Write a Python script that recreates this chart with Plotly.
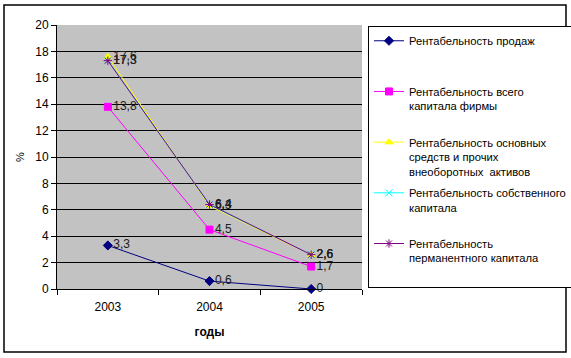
import plotly.graph_objects as go

years = ["2003", "2004", "2005"]
sales = [3.3, 0.6, 0]
total_capital = [13.8, 4.5, 1.7]
fixed_assets = [17.6, 6.3, 2.6]
own_capital = [17.3, 6.4, 2.6]
permanent_capital = [17.3, 6.4, 2.6]

names = [
    "Рентабельность продаж",
    "Рентабельность всего<br>капитала фирмы",
    "Рентабельность основных<br>средств и прочих<br>внеоборотных  активов",
    "Рентабельность собственного<br>капитала",
    "Рентабельность<br>перманентного капитала",
]
series = [sales, total_capital, fixed_assets, own_capital, permanent_capital]
colors = ["#000080", "#FF00FF", "#FFFF00", "#00FFFF", "#800080"]
symbols = ["diamond", "square", "triangle-up", "x-thin-open", "asterisk-open"]
sizes = [7, 7, 7, 7, 7]

def fmt(v):
    s = ("%g" % v)
    return s.replace(".", ",")

def pad(name):
    n = name.count("<br>") + 1
    return name + "<br>\u00a0" * (3 - n)

FONT = "Arial, Liberation Sans, sans-serif"

fig = go.Figure()
for i, (vals, nm, c, sym, sz) in enumerate(zip(series, names, colors, symbols, sizes)):
    fig.add_trace(go.Scatter(
        x=years, y=vals, name=pad(nm), mode="lines+markers+text",
        line=dict(color=c, width=1),
        marker=dict(color=c, symbol=sym, size=sz, line=dict(color=c, width=1)),
        text=[fmt(v) for v in vals], textposition="middle right",
        textfont=dict(family=FONT, size=12, color="#202020"),
        legendgroup=str(i), cliponaxis=False,
    ))

FW, FH = 571, 358
L, R, T, B = 57, 5, 5, 69
PW, PH = FW - L - R, FH - T - B
plot_w, plot_top = 305, 25

def px(x):
    return (x - L) / PW

def py(y):
    return (FH - B - y) / PH

fig.update_layout(
    width=FW, height=FH,
    margin=dict(l=L, r=R, t=T, b=B, autoexpand=False),
    paper_bgcolor="white", plot_bgcolor="#c2c2c2",
    font=dict(family=FONT, size=12, color="black"),
    showlegend=True,
    legend=dict(
        x=px(368), xanchor="left", y=py(26), yanchor="top",
        bordercolor="black", borderwidth=1, bgcolor="white",
        font=dict(family=FONT, size=11.2, color="black"),
        valign="top", tracegroupgap=4, traceorder="grouped", itemwidth=30,
    ),
    xaxis=dict(
        domain=[0, plot_w / PW],
        type="category", range=[-0.5, 2.5], tickson="boundaries",
        ticks="outside", ticklen=5, tickcolor="black", ticklabelstandoff=7,
        showline=True, linecolor="black", linewidth=1, showgrid=False,
        tickfont=dict(size=12), title=dict(text="<b>годы</b>", font=dict(size=12), standoff=14),
    ),
    yaxis=dict(
        domain=[0, py(plot_top)],
        range=[0, 20], dtick=2, ticks="outside", ticklen=5, tickcolor="black",
        showline=True, linecolor="black", linewidth=1,
        showgrid=True, gridcolor="black", gridwidth=1, zeroline=False,
        tickfont=dict(size=12), title=dict(text="%", font=dict(size=11), standoff=8),
    ),
    shapes=[dict(
        type="rect", xref="paper", yref="paper",
        x0=px(4), x1=px(566), y0=py(352), y1=py(5),
        line=dict(color="black", width=1.5), fillcolor="rgba(0,0,0,0)", layer="above",
    )],
)

fig.write_html(
    "out.html",
    config={"displayModeBar": False},
    post_script="document.body.style.margin='0';document.body.style.overflow='hidden';",
)
